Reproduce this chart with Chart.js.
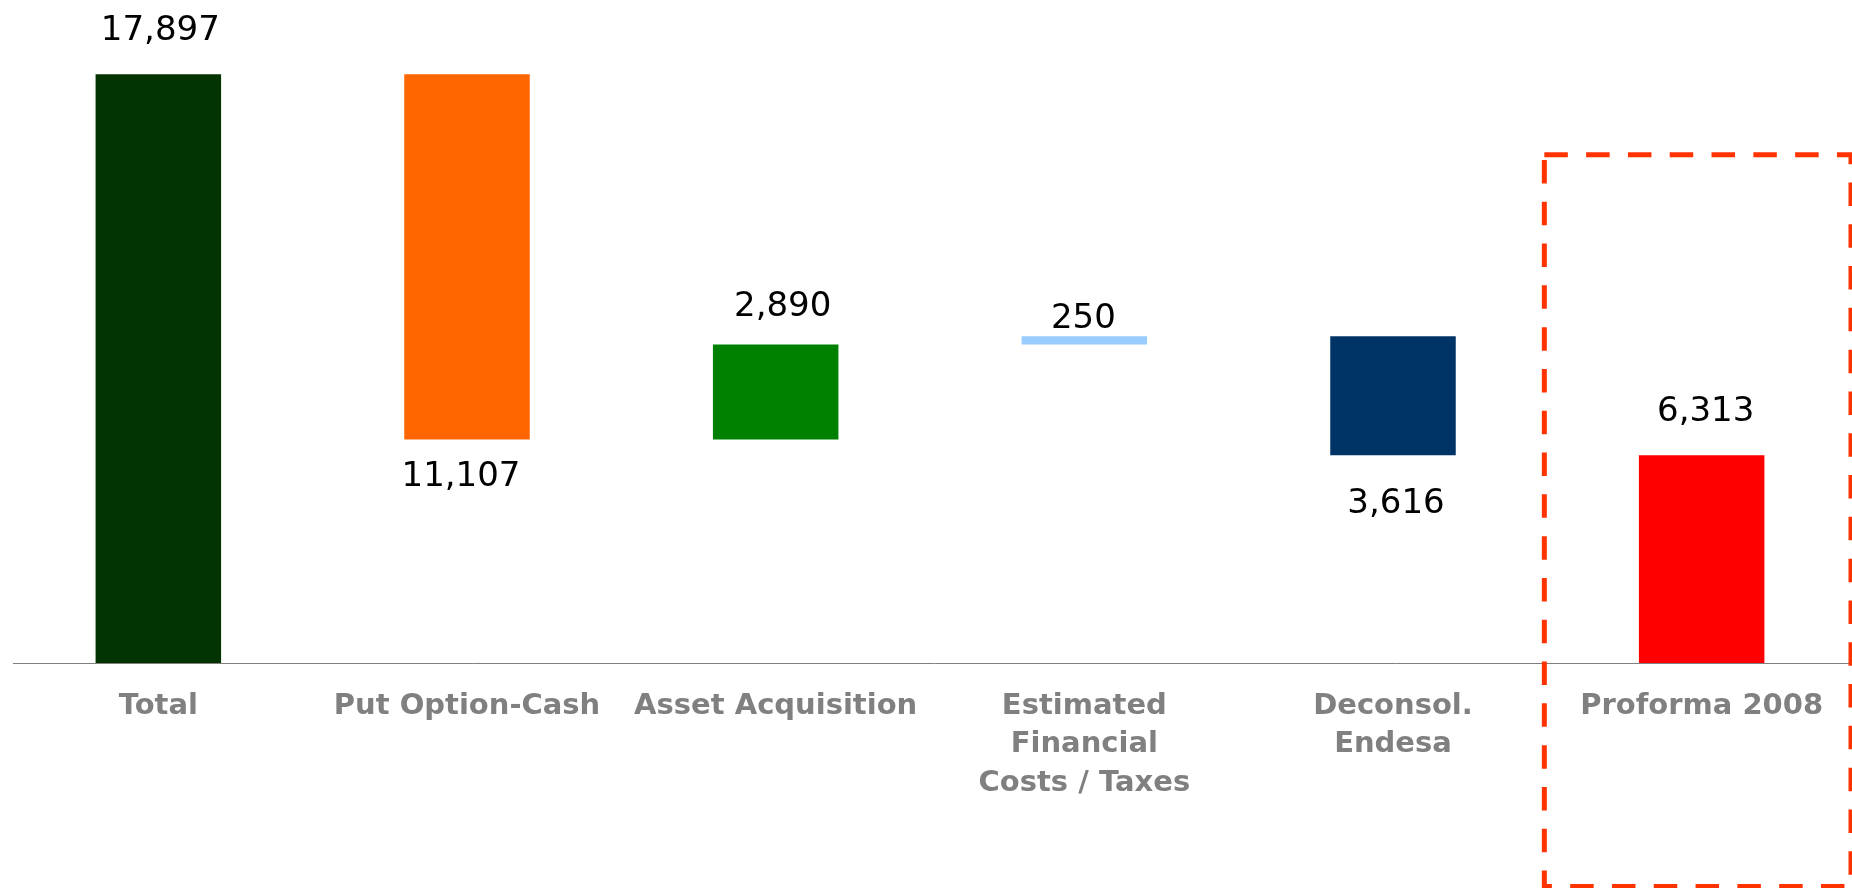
<!DOCTYPE html>
<html>
<head>
<meta charset="utf-8">
<script src="https://cdn.jsdelivr.net/npm/chart.js@4.4.1/dist/chart.umd.min.js"></script>
<style>
  html, body { margin: 0; padding: 0; background: #fff; overflow: hidden; }
  #wrap { width: 1856px; height: 888px; position: relative; }
</style>
</head>
<body>
<div id="wrap"><canvas id="myChart"></canvas></div>
<script>
'use strict';

let categories = [
  'Total',
  'Put Option-Cash',
  'Asset Acquisition',
  ['Estimated', 'Financial', 'Costs / Taxes'],
  ['Deconsol.', 'Endesa'],
  'Proforma 2008',
];
let steps = [17897, -11107, 2890, 250, -3616, 6313];
let isTotal = [true, false, false, false, false, true];
let barColors = ['#033300', '#FF6600', '#008000', '#99CCFF', '#003366', '#FF0000'];

// where each value label sits: side of the bar, gap in px, nudge in x
let labelPlace = [
  ['top', 43.5, 2],
  ['bottom', 38, -6],
  ['top', 37, 7],
  ['top', 17, -1],
  ['bottom', 49, 3],
  ['top', 43, 4],
];

// floating bars: totals start at zero, the rest hang off the running sum
let bars = [];
let running = 0;
for (let i = 0; i < steps.length; i++) {
  if (isTotal[i]) {
    bars.push([0, steps[i]]);
    running = steps[i];
  } else {
    bars.push([running, running + steps[i]]);
    running += steps[i];
  }
}

const valueLabels = {
  id: 'valueLabels',
  afterDatasetsDraw(chart) {
    const ctx = chart.ctx;
    const meta = chart.getDatasetMeta(0);
    ctx.save();
    ctx.font = '34px "DejaVu Sans"';
    ctx.fillStyle = '#000';
    ctx.textAlign = 'center';
    ctx.textBaseline = 'middle';
    meta.data.forEach((bar, i) => {
      const top = Math.min(bar.y, bar.base);
      const bottom = Math.max(bar.y, bar.base);
      const [side, gap, dx] = labelPlace[i];
      const y = side === 'top' ? top - gap : bottom + gap;
      ctx.fillText(Math.abs(steps[i]).toLocaleString('en-US'), bar.x + dx, y);
    });
    ctx.restore();
  }
};

// zero line plus the red dashed frame around the last column
const overlay = {
  id: 'overlay',
  afterDraw(chart) {
    const ctx = chart.ctx;
    const xs = chart.scales.x;
    const ys = chart.scales.y;

    const zero = Math.round(ys.getPixelForValue(0)) + 0.5;
    ctx.save();
    ctx.strokeStyle = '#808080';
    ctx.lineWidth = 1;
    ctx.beginPath();
    ctx.moveTo(13, zero);
    ctx.lineTo(chart.chartArea.right, zero);
    ctx.stroke();

    const half = (xs.getPixelForValue(1) - xs.getPixelForValue(0)) / 2;
    const left = xs.getPixelForValue(5) - half - 3;
    const right = chart.chartArea.right - 5;
    const top = ys.getPixelForValue(15450);
    const bottom = chart.height - 1.5;
    ctx.strokeStyle = '#FF3300';
    ctx.lineWidth = 5;
    ctx.setLineDash([23.5, 18.3]);
    ctx.strokeRect(left, top, right - left, bottom - top);
    ctx.restore();
  }
};

let ctx = document.getElementById('myChart').getContext('2d');
let myChart = new Chart(ctx, {
  type: 'bar',
  data: {
    labels: categories,
    datasets: [{
      data: bars,
      backgroundColor: barColors,
      borderWidth: 0,
      barPercentage: 0.4066,
      categoryPercentage: 1,
    }]
  },
  options: {
    responsive: true,
    maintainAspectRatio: false,
    animation: false,
    layout: {
      padding: { top: 5, left: 4, right: 0, bottom: 0 }
    },
    plugins: {
      legend: { display: false },
      tooltip: { enabled: false },
    },
    scales: {
      x: {
        grid: { display: false },
        border: { display: false },
        ticks: {
          autoSkip: false,
          maxRotation: 0,
          padding: 16,
          color: '#808080',
          font: { family: 'DejaVu Sans', size: 29, weight: 'bold', lineHeight: 1.33 },
        },
        afterFit: (axis) => { axis.height = 225; },
      },
      y: {
        display: false,
        min: 0,
        max: 20000,
      }
    }
  },
  plugins: [valueLabels, overlay]
});
</script>
</body>
</html>
